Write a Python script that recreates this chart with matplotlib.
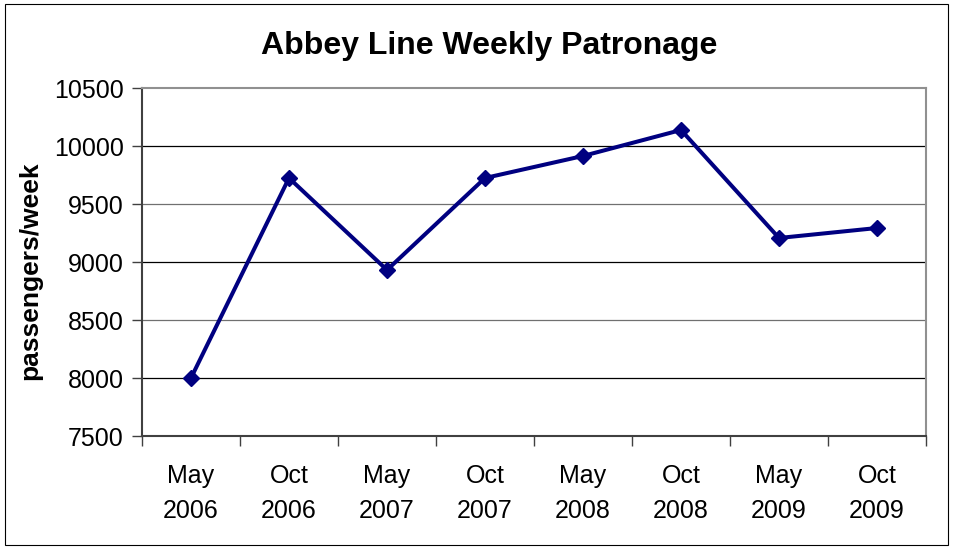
import matplotlib
matplotlib.use("Agg")
import matplotlib.pyplot as plt
import numpy as np
from matplotlib.patches import Rectangle

categories = ["May\n2006", "Oct\n2006", "May\n2007", "Oct\n2007",
              "May\n2008", "Oct\n2008", "May\n2009", "Oct\n2009"]
passengers = [8000, 9724, 8931, 9724, 9914, 10138, 9207, 9293]
yticks = [7500, 8000, 8500, 9000, 9500, 10000, 10500]

plt.rcParams['font.family'] = ['Liberation Sans', 'DejaVu Sans']

fig = plt.figure(figsize=(9.55, 5.49), dpi=100)
fig.patches.append(Rectangle((5/955, 4/549), (948-5)/955, (545-4)/549,
                             transform=fig.transFigure, fill=False,
                             edgecolor='black', linewidth=0.8))
ax = fig.add_axes([142/955, 1-436/549, (926-142)/955, (436-88)/549])

x = np.arange(len(categories))
ax.plot(x, passengers, color='#000080', linewidth=2.9, marker='D',
        markersize=8.5, markeredgecolor='#000080', markerfacecolor='#000080', zorder=3)

ax.set_xlim(-0.5, len(categories) - 0.5)
ax.set_ylim(7500, 10500)
ax.set_yticks(yticks)
ax.set_yticklabels([str(v) for v in yticks], fontsize=18)
for v in yticks[1:-1]:
    ax.axhline(v, color='black' if v % 1000 == 0 else '#707070', linewidth=0.9, zorder=1)

ax.set_xticks(x)
ax.set_xticklabels(categories, fontsize=18, linespacing=1.57)
ax.set_xticks(np.arange(-0.5, len(categories)), minor=True)
ax.tick_params(axis='x', which='major', length=0, pad=20)
ax.tick_params(axis='x', which='minor', length=7, width=1, color='#404040', direction='out')
ax.tick_params(axis='y', length=7, width=1, color='#404040', direction='out', pad=6)

for side in ['top', 'right']:
    ax.spines[side].set_color('#909090')
    ax.spines[side].set_linewidth(1.5)
for side in ['left', 'bottom']:
    ax.spines[side].set_color('#404040')
    ax.spines[side].set_linewidth(1.5)

fig.text(30/955, 1-271/549, 'passengers/week', fontsize=19, fontweight='bold',
         rotation=90, ha='center', va='center')
fig.text(489/955, 1-46/549, 'Abbey Line Weekly Patronage', fontsize=23,
         fontweight='bold', ha='center', va='center')

fig.savefig('out.png', dpi=100)
